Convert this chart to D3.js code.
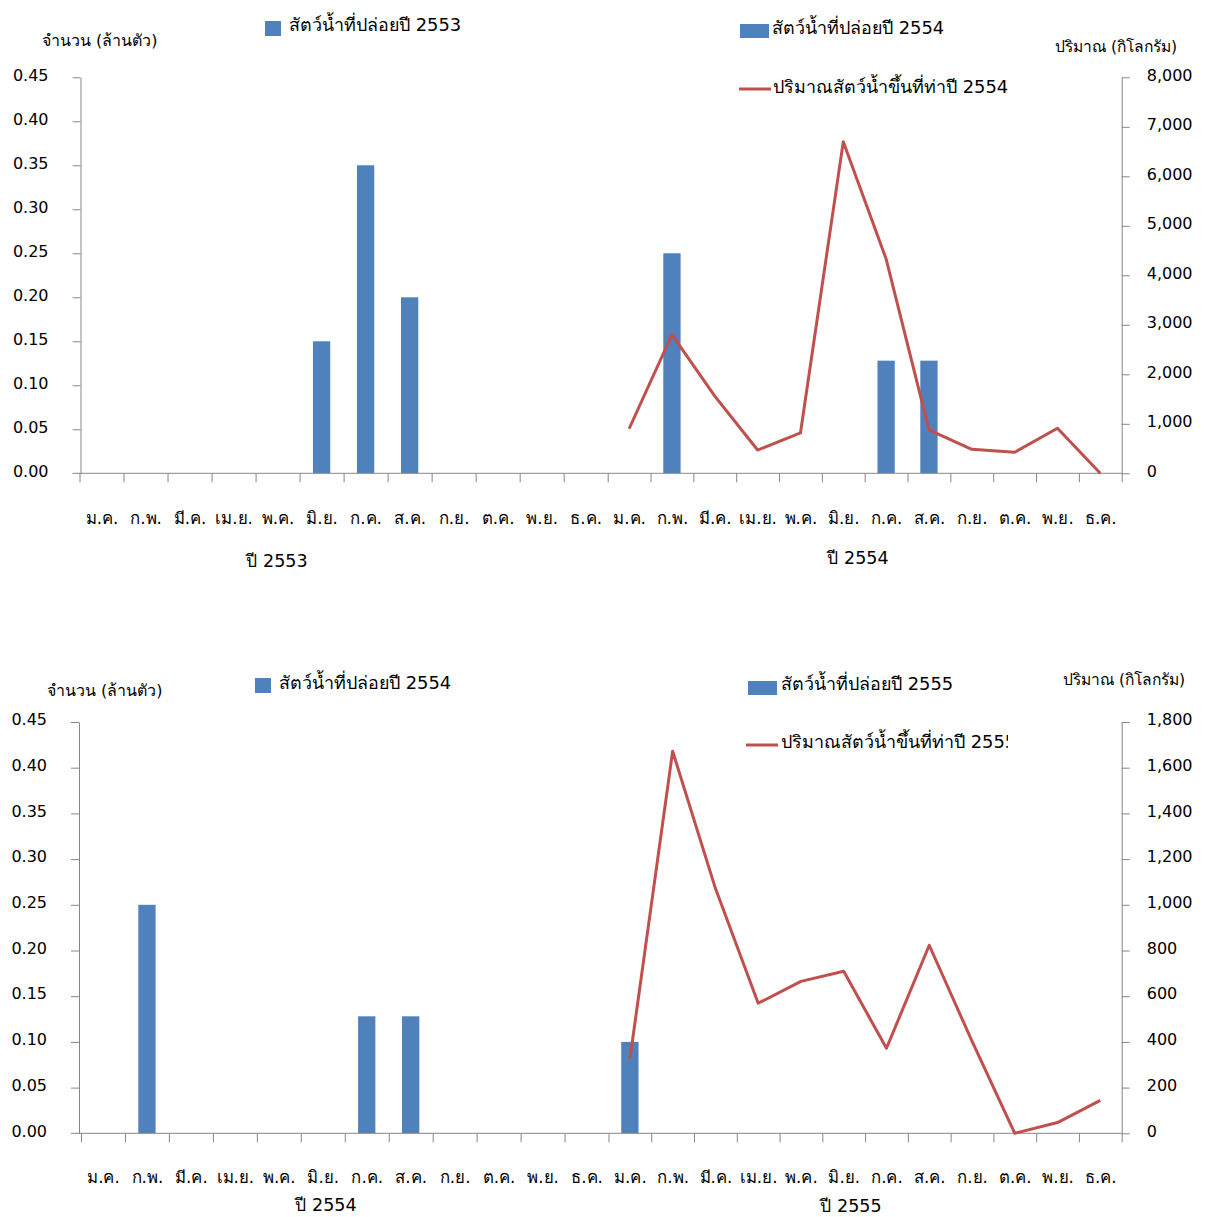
<!DOCTYPE html>
<html>
<head>
<meta charset="utf-8">
<script src="https://cdn.jsdelivr.net/npm/d3@7"></script>
<style>
  html, body { margin: 0; padding: 0; background: #fff; }
  svg { display: block; }
  text { font-family: Tahoma, "DejaVu Sans", "Noto Sans", sans-serif; fill: #000; }
  .axis path, .axis line { stroke: #868686; }
</style>
</head>
<body>
<svg id="chart" width="1205" height="1217"></svg>
<script>
// Month names on the category axis (each chart spans two years)
const months = ["ม.ค.", "ก.พ.", "มี.ค.", "เม.ย.", "พ.ค.", "มิ.ย.", "ก.ค.", "ส.ค.", "ก.ย.", "ต.ค.", "พ.ย.", "ธ.ค."];

// Released aquatic animals (million), per month
const release2553 = [0, 0, 0, 0, 0, 0.15, 0.35, 0.20, 0, 0, 0, 0];
const release2554 = [0, 0.25, 0, 0, 0, 0, 0.128, 0.128, 0, 0, 0, 0];
const release2555 = [0.10, 0, 0, 0, 0, 0, 0, 0, 0, 0, 0, 0];

// Landed aquatic animals at the pier (kg), per month
const landing2554 = [900, 2800, 1560, 470, 815, 6700, 4330, 875, 485, 424, 909, 0];
const landing2555 = [324, 1672, 1072, 569, 665, 709, 372, 823, 403, 0, 47, 144];

// Axis tick values
const leftTicks = [0, 0.05, 0.10, 0.15, 0.20, 0.25, 0.30, 0.35, 0.40, 0.45];
const rightTicksTop = [0, 1000, 2000, 3000, 4000, 5000, 6000, 7000, 8000];
const rightTicksBottom = [0, 200, 400, 600, 800, 1000, 1200, 1400, 1600, 1800];

// Text labels
const leftTitle = "จำนวน (ล้านตัว)";
const rightTitle = "ปริมาณ (กิโลกรัม)";
const topYears = ["ปี 2553", "ปี 2554"];
const bottomYears = ["ปี 2554", "ปี 2555"];
const topLegend = ["สัตว์น้ำที่ปล่อยปี 2553", "สัตว์น้ำที่ปล่อยปี 2554", "ปริมาณสัตว์น้ำขึ้นที่ท่าปี 2554"];
const bottomLegend = ["สัตว์น้ำที่ปล่อยปี 2554", "สัตว์น้ำที่ปล่อยปี 2555", "ปริมาณสัตว์น้ำขึ้นที่ท่าปี 2555"];

const BAR = "#4F81BD", LINE = "#C0504D";
const svg = d3.select("#chart");

function drawChart(o) {
  const g = svg.append("g");
  // category position: 24 months, first year then second year
  const x = d3.scaleLinear().domain([0, 12, 24]).range(o.xRange);
  const yL = d3.scaleLinear().domain([0, 0.45]).range([o.y0, o.y1]);
  const yR = d3.scaleLinear().domain([0, o.rightMax]).range([o.y0, o.y1]);
  const bw = 17.3;

  // bars
  const bars = [];
  o.barsA.forEach((v, i) => { if (v > 0) bars.push({ k: i, v }); });
  o.barsB.forEach((v, i) => { if (v > 0) bars.push({ k: 12 + i, v }); });
  g.selectAll("rect.bar").data(bars).enter().append("rect")
    .attr("class", "bar")
    .attr("x", d => x(d.k + 0.5) - bw / 2)
    .attr("width", bw)
    .attr("y", d => yL(d.v))
    .attr("height", d => yL(0) - yL(d.v))
    .attr("fill", BAR);

  // x axis: boundary ticks
  const xAxis = g.append("g").attr("class", "axis")
    .attr("transform", `translate(0,${o.y0})`)
    .call(d3.axisBottom(x).tickValues(d3.range(0, 25)).tickFormat("").tickSize(9).tickSizeOuter(0));
  xAxis.select("path.domain").remove();
  g.append("line").attr("x1", o.axisX - 8).attr("x2", o.xRange[2])
    .attr("y1", o.y0).attr("y2", o.y0).attr("stroke", "#868686");

  // month labels
  const labelAxis = g.append("g")
    .attr("transform", `translate(0,${o.monthY})`)
    .call(d3.axisBottom(x).tickValues(d3.range(0, 24).map(k => k + 0.5))
      .tickFormat(d => months[Math.floor(d) % 12]).tickSize(0));
  labelAxis.select("path.domain").remove();
  labelAxis.selectAll("text").attr("font-size", 16.8).attr("dy", "0.35em").attr("y", 0);

  // left axis
  const left = g.append("g").attr("class", "axis")
    .attr("transform", `translate(${o.axisX},0)`)
    .call(d3.axisLeft(yL).tickValues(leftTicks).tickFormat(d3.format(".2f")).tickSize(8).tickSizeOuter(0).tickPadding(24));
  left.selectAll("text").attr("font-size", 16).attr("dy", "0.17em");
  left.selectAll(".tick").filter(d => d === 0).select("line").remove();

  // right axis
  const right = g.append("g").attr("class", "axis")
    .attr("transform", `translate(${o.xRange[2]},0)`)
    .call(d3.axisRight(yR).tickValues(o.rightTicks).tickFormat(d3.format(",")).tickSize(8).tickSizeOuter(0).tickPadding(17));
  right.selectAll("text").attr("font-size", 16).attr("dy", "0.17em");

  // landing line (second year)
  const line = d3.line().x((d, i) => x(12 + i + 0.5)).y(d => yR(d));
  g.append("path").datum(o.landing)
    .attr("d", line).attr("fill", "none").attr("stroke", LINE)
    .attr("stroke-width", 3).attr("stroke-linejoin", "round");

  // axis titles
  g.append("text").attr("x", o.leftTitle[0]).attr("y", o.leftTitle[1])
    .attr("dy", "0.35em").attr("font-size", 16).text(leftTitle);
  g.append("text").attr("x", o.rightTitle[0]).attr("y", o.rightTitle[1])
    .attr("dy", "0.35em").attr("font-size", 15.6).text(rightTitle);

  // year captions
  o.years.forEach((t, i) => {
    g.append("text").attr("x", o.yearPos[i][0]).attr("y", o.yearPos[i][1])
      .attr("dy", "0.35em").attr("text-anchor", "middle").attr("font-size", 17.5).text(t);
  });

  // legend
  const L = o.legend;
  g.append("rect").attr("x", L.a[0]).attr("y", L.a[1]).attr("width", 16).attr("height", 15).attr("fill", BAR);
  g.append("text").attr("x", L.a[2]).attr("y", L.a[3]).attr("dy", "0.35em").attr("font-size", 17.9).text(o.legendText[0]);
  g.append("rect").attr("x", L.b[0]).attr("y", L.b[1]).attr("width", 29).attr("height", 14).attr("fill", BAR);
  g.append("text").attr("x", L.b[2]).attr("y", L.b[3]).attr("dy", "0.35em").attr("font-size", 17.9).text(o.legendText[1]);
  const clipId = "clip" + o.id;
  svg.append("clipPath").attr("id", clipId).append("rect")
    .attr("x", L.c[0] - 5).attr("y", L.c[1] - 20).attr("width", L.clipW).attr("height", 40);
  const lg = g.append("g").attr("clip-path", `url(#${clipId})`);
  lg.append("line").attr("x1", L.c[0]).attr("x2", L.c[0] + 32).attr("y1", L.c[1]).attr("y2", L.c[1])
    .attr("stroke", LINE).attr("stroke-width", 3);
  lg.append("text").attr("x", L.c[2]).attr("y", L.c[3]).attr("dy", "0.35em").attr("font-size", 17.9).text(o.legendText[2]);
}

drawChart({
  id: "top",
  xRange: [79.5, 607.7, 1121.7], axisX: 80.5, y0: 473.3, y1: 77.3,
  rightMax: 8000, rightTicks: rightTicksTop,
  barsA: release2553, barsB: release2554, landing: landing2554,
  monthY: 518,
  leftTitle: [42, 40], rightTitle: [1055, 47],
  years: topYears, yearPos: [[277, 561], [858, 558]],
  legendText: topLegend,
  legend: { a: [265, 21, 289, 25], b: [740, 24, 772, 28], c: [739, 89, 773, 87], clipW: 400 }
});

drawChart({
  id: "bottom",
  xRange: [81, 608.5, 1121.7], axisX: 79, y0: 1133.3, y1: 722,
  rightMax: 1800, rightTicks: rightTicksBottom,
  barsA: release2554, barsB: release2555, landing: landing2555,
  monthY: 1177,
  leftTitle: [47, 690], rightTitle: [1063, 680],
  years: bottomYears, yearPos: [[326, 1205], [851, 1206]],
  legendText: bottomLegend,
  legend: { a: [255, 678, 279, 683], b: [748, 681, 781, 684], c: [746, 745, 781, 742], clipW: 267 }
});
</script>
</body>
</html>
